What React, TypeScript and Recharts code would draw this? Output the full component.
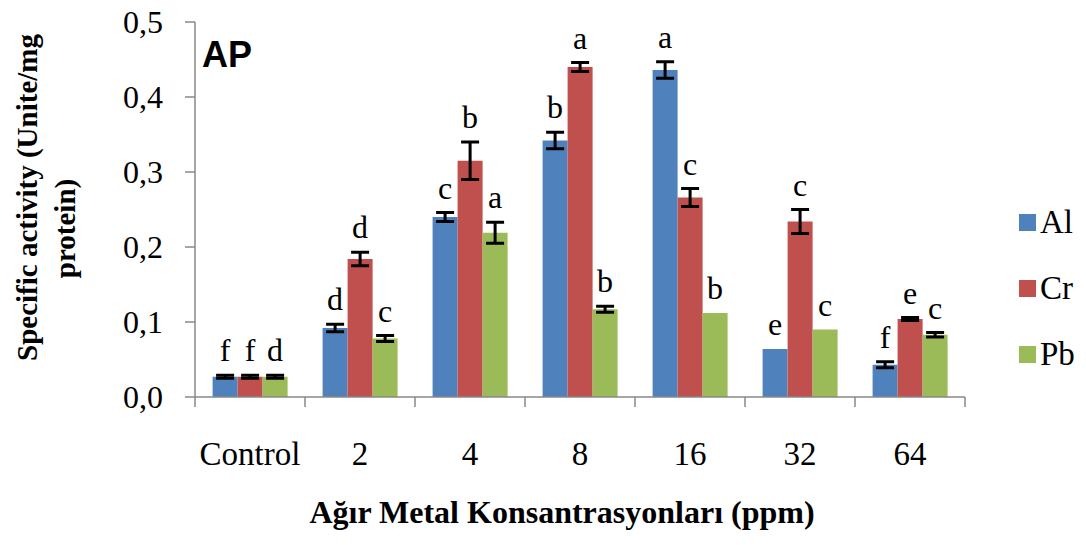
import { BarChart, Bar, XAxis, YAxis, ErrorBar, LabelList, Legend } from 'recharts';

const categories = ['Control', '2', '4', '8', '16', '32', '64'];

const al = [0.027, 0.092, 0.240, 0.342, 0.436, 0.064, 0.043];
const alErr = [0.002, 0.005, 0.006, 0.011, 0.011, null, 0.004];
const alLetters = ['f', 'd', 'c', 'b', 'a', 'e', 'f'];

const cr = [0.027, 0.184, 0.315, 0.440, 0.266, 0.234, 0.104];
const crErr = [0.002, 0.009, 0.025, 0.006, 0.012, 0.016, 0.002];
const crLetters = ['f', 'd', 'b', 'a', 'c', 'c', 'e'];

const pb = [0.027, 0.078, 0.219, 0.117, 0.112, 0.090, 0.083];
const pbErr = [0.002, 0.004, 0.014, 0.004, null, null, 0.003];
const pbLetters = ['d', 'c', 'a', 'b', 'b', 'c', 'c'];

const yTicks = [0, 0.1, 0.2, 0.3, 0.4, 0.5];

const data = categories.map((name, i) => ({
  name,
  Al: al[i], AlErr: alErr[i], AlLetter: alLetters[i],
  Cr: cr[i], CrErr: crErr[i], CrLetter: crLetters[i],
  Pb: pb[i], PbErr: pbErr[i], PbLetter: pbLetters[i],
}));

const SERIF = '"Liberation Serif", "Times New Roman", serif';
const SANS = '"Liberation Sans", Arial, sans-serif';
const AXIS = '#898989';
const COLORS = { Al: '#4F81BD', Cr: '#C0504D', Pb: '#9BBB59' };

// letter above bar + error bar; px per unit taken from the bar's own height
const makeLetter = (values: number[], errs: (number | null)[]) => (props: any) => {
  const vb = props.viewBox || {};
  const x = props.x ?? vb.x;
  const y = props.y ?? vb.y;
  const width = props.width ?? vb.width;
  const height = props.height ?? vb.height;
  const i = props.index;
  const v = values[i];
  const e = errs[i] || 0;
  const errPx = v ? (height / v) * e : 0;
  return (
    <text x={x + width / 2} y={y - errPx - 14} textAnchor="middle" fontSize={32} fontFamily={SERIF} fill="#000">
      {props.value}
    </text>
  );
};

const XTick = (props: any) => {
  const { x, y, payload } = props;
  const half = payload.offset || 55;
  const idx = props.index ?? payload.index;
  return (
    <g>
      <line x1={x - half} y1={y} x2={x - half} y2={y + 10} stroke={AXIS} strokeWidth={1.5} />
      {idx === categories.length - 1 && (
        <line x1={x + half} y1={y} x2={x + half} y2={y + 10} stroke={AXIS} strokeWidth={1.5} />
      )}
      <text x={x} y={y + 68} textAnchor="middle" fontSize={33} fontFamily={SERIF} fill="#000">
        {payload.value}
      </text>
    </g>
  );
};

const YTitle = (props: any) => {
  const vb = props.viewBox;
  const cy = vb.y + vb.height / 2;
  return (
    <g>
      <text transform={`translate(29, ${cy - 12}) rotate(-90)`} textAnchor="middle" fontSize={29} fontWeight="bold" fontFamily={SERIF} fill="#000">
        Specific activity (Unite/mg
      </text>
      <text transform={`translate(67, ${cy + 19}) rotate(-90)`} textAnchor="middle" fontSize={29} fontWeight="bold" fontFamily={SERIF} fill="#000">
        protein)
      </text>
      <text x={vb.x + vb.width + 7} y={vb.y + 45} fontSize={36} fontWeight="bold" fontFamily={SANS} fill="#000">
        AP
      </text>
    </g>
  );
};

const XTitle = (props: any) => {
  const vb = props.viewBox;
  return (
    <text x={vb.x + vb.width / 2 - 18} y={vb.y + 126} textAnchor="middle" fontSize={32} fontWeight="bold" fontFamily={SERIF} fill="#000">
      Ağır Metal Konsantrasyonları (ppm)
    </text>
  );
};

const LegendBox = (props: any) => (
  <div>
    {(props.payload || []).map((p: any) => (
      <div key={p.value} style={{ display: 'flex', alignItems: 'center', height: 66 }}>
        <span style={{ width: 17, height: 17, background: p.color, display: 'inline-block', marginRight: 4 }} />
        <span style={{ fontFamily: SERIF, fontSize: 33, color: '#000' }}>{p.value}</span>
      </div>
    ))}
  </div>
);

const App = () => {
  return (
    <BarChart
      width={1070}
      height={529}
      data={data}
      margin={{ top: 14, right: 113, left: 0, bottom: 0 }}
      barCategoryGap="16%"
      barGap={0}
    >
      <XAxis
        dataKey="name"
        height={140}
        axisLine={{ stroke: AXIS, strokeWidth: 1.5 }}
        tickLine={false}
        tickSize={0}
        tickMargin={0}
        tick={<XTick />}
        interval={0}
        label={<XTitle />}
      />
      <YAxis
        width={187}
        domain={[0, 0.5]}
        ticks={yTicks}
        interval={0}
        axisLine={{ stroke: AXIS, strokeWidth: 1.5 }}
        tickLine={{ stroke: AXIS, strokeWidth: 1.5 }}
        tickSize={10}
        tickMargin={22}
        tick={{ fontSize: 32, fontFamily: SERIF, fill: '#000' }}
        tickFormatter={(v: number) => v.toFixed(1).replace('.', ',')}
        label={<YTitle />}
      />
      <Legend
        layout="horizontal"
        align="center"
        verticalAlign="middle"
        content={<LegendBox />}
        wrapperStyle={{ left: 1011, top: 181, width: 70 }}
      />
      <Bar dataKey="Al" name="Al" fill={COLORS.Al} isAnimationActive={false}>
        <ErrorBar dataKey="AlErr" width={9} strokeWidth={3} stroke="#000" />
        <LabelList dataKey="AlLetter" content={makeLetter(al, alErr)} />
      </Bar>
      <Bar dataKey="Cr" name="Cr" fill={COLORS.Cr} isAnimationActive={false}>
        <ErrorBar dataKey="CrErr" width={9} strokeWidth={3} stroke="#000" />
        <LabelList dataKey="CrLetter" content={makeLetter(cr, crErr)} />
      </Bar>
      <Bar dataKey="Pb" name="Pb" fill={COLORS.Pb} isAnimationActive={false}>
        <ErrorBar dataKey="PbErr" width={9} strokeWidth={3} stroke="#000" />
        <LabelList dataKey="PbLetter" content={makeLetter(pb, pbErr)} />
      </Bar>
    </BarChart>
  );
};

export default App;
